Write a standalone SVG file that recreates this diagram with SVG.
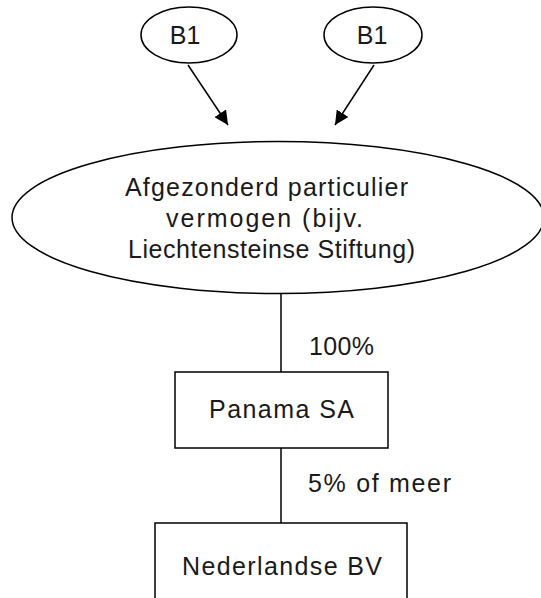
<svg xmlns="http://www.w3.org/2000/svg" width="541" height="598" viewBox="0 0 541 598">
<style>
.shape{fill:#fff;stroke:#000;stroke-width:1.5}
.edge{fill:none;stroke:#000;stroke-width:1.5}
text{font-family:"Liberation Sans",Arial,sans-serif;font-size:25px;fill:#1a1a1a}
.c{text-anchor:middle}
</style>
<defs>
<marker id="arr" viewBox="0 0 10 10" refX="10" refY="5" markerWidth="14" markerHeight="14" markerUnits="userSpaceOnUse" orient="auto">
<path d="M0,0 L10,5 L0,10 z" fill="#000"/>
</marker>
</defs>
<g id="connectors">
<line class="edge" x1="188" y1="65" x2="228" y2="125" marker-end="url(#arr)"/>
<line class="edge" x1="374" y1="65" x2="335" y2="125" marker-end="url(#arr)"/>
<line class="edge" x1="281" y1="294" x2="281" y2="372"/>
<line class="edge" x1="281" y1="448" x2="281" y2="523"/>
<text x="309" y="355" textLength="65" lengthAdjust="spacing">100%</text>
<text x="308" y="492" textLength="143" lengthAdjust="spacing">5% of meer</text>
</g>
<g id="b1-left">
<ellipse class="shape" cx="189" cy="35" rx="48" ry="28"/>
<text class="c" x="185" y="44">B1</text>
</g>
<g id="b1-right">
<ellipse class="shape" cx="373" cy="35" rx="49" ry="28"/>
<text class="c" x="372" y="44">B1</text>
</g>
<g id="stiftung">
<ellipse class="shape" cx="278" cy="217.5" rx="266" ry="76"/>
<text x="125" y="196" textLength="283" lengthAdjust="spacing">Afgezonderd particulier</text>
<text x="166" y="227" textLength="197" lengthAdjust="spacing">vermogen (bijv.</text>
<text x="128" y="258" textLength="287" lengthAdjust="spacing">Liechtensteinse Stiftung)</text>
</g>
<g id="panama">
<rect class="shape" x="175" y="372" width="213" height="76"/>
<text x="209" y="418" textLength="145" lengthAdjust="spacing">Panama SA</text>
</g>
<g id="nederlandse">
<rect class="shape" x="155" y="523" width="252" height="90"/>
<text x="182" y="575" textLength="200" lengthAdjust="spacing">Nederlandse BV</text>
</g>
</svg>
